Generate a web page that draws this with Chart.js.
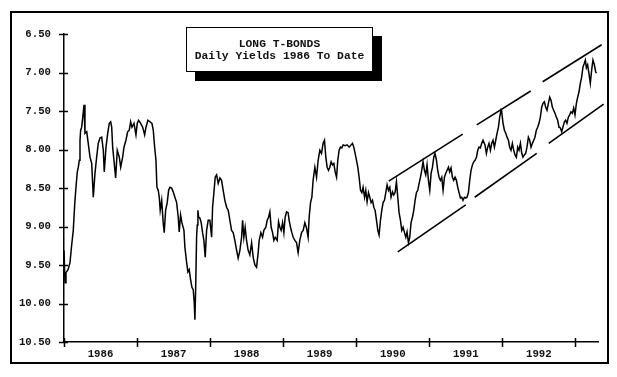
<!DOCTYPE html>
<html>
<head>
<meta charset="utf-8">
<script src="https://cdn.jsdelivr.net/npm/chart.js@4/dist/chart.umd.min.js"></script>
<style>
  html, body { margin: 0; padding: 0; background: #fff; }
  #wrap { position: relative; width: 617px; height: 377px; }
  #title {
    position: absolute; left: 186px; top: 27px; width: 187px; height: 45px;
    box-sizing: border-box; border: 1px solid #000; background: #fff;
    box-shadow: 9px 9px 0 #000;
    font: bold 11.3px "Liberation Mono", "DejaVu Sans Mono", monospace;
    color: #111; text-align: center; line-height: 12px; padding-top: 10px;
    white-space: pre;
  }
</style>
</head>
<body>
<div id="wrap">
  <canvas id="c" width="617" height="377"></canvas>
  <div id="title">LONG T-BONDS
Daily Yields 1986 To Date</div>
</div>
<script>
// ---- data (decimal year, yield %) ----
const dates = [
1986.000,1986.014,1986.027,1986.055,1986.082,1986.105,1986.127,1986.146,1986.164,1986.182,
1986.196,1986.209,1986.219,1986.228,1986.242,1986.256,1986.274,1986.287,1986.311,1986.332,
1986.356,1986.379,1986.401,1986.424,1986.447,1986.469,1986.492,1986.516,1986.538,1986.551,
1986.575,1986.598,1986.620,1986.639,1986.653,1986.666,1986.688,1986.707,1986.729,1986.757,
1986.776,1986.803,1986.821,1986.848,1986.871,1986.893,1986.912,1986.930,1986.958,1986.985,
1987.003,1987.022,1987.049,1987.077,1987.104,1987.122,1987.149,1987.176,1987.204,1987.222,
1987.241,1987.259,1987.272,1987.290,1987.304,1987.317,1987.337,1987.358,1987.372,1987.391,
1987.413,1987.432,1987.450,1987.473,1987.495,1987.518,1987.542,1987.564,1987.577,1987.596,
1987.614,1987.642,1987.655,1987.679,1987.696,1987.714,1987.733,1987.751,1987.769,1987.783,
1987.792,1987.802,1987.815,1987.824,1987.833,1987.843,1987.860,1987.878,1987.897,1987.915,
1987.933,1987.952,1987.974,1987.997,1988.021,1988.034,1988.052,1988.070,1988.089,1988.111,
1988.134,1988.157,1988.179,1988.202,1988.226,1988.248,1988.271,1988.294,1988.316,1988.339,
1988.363,1988.384,1988.408,1988.431,1988.445,1988.462,1988.480,1988.499,1988.521,1988.544,
1988.568,1988.590,1988.613,1988.636,1988.658,1988.672,1988.695,1988.718,1988.736,1988.763,
1988.781,1988.800,1988.818,1988.836,1988.855,1988.873,1988.891,1988.918,1988.937,1988.955,
1988.973,1988.992,1989.010,1989.027,1989.047,1989.068,1989.082,1989.101,1989.119,1989.137,
1989.160,1989.183,1989.205,1989.228,1989.252,1989.274,1989.297,1989.320,1989.342,1989.356,
1989.375,1989.393,1989.410,1989.434,1989.457,1989.479,1989.502,1989.525,1989.547,1989.566,
1989.584,1989.602,1989.621,1989.639,1989.657,1989.676,1989.694,1989.712,1989.731,1989.748,
1989.766,1989.785,1989.803,1989.821,1989.848,1989.876,1989.903,1989.930,1989.949,1989.967,
1989.985,1990.004,1990.022,1990.040,1990.059,1990.077,1990.094,1990.114,1990.131,1990.149,
1990.168,1990.186,1990.204,1990.223,1990.241,1990.259,1990.278,1990.296,1990.313,1990.332,
1990.350,1990.368,1990.387,1990.405,1990.423,1990.442,1990.460,1990.477,1990.497,1990.514,
1990.532,1990.551,1990.569,1990.587,1990.606,1990.624,1990.642,1990.661,1990.679,1990.696,
1990.715,1990.733,1990.751,1990.770,1990.788,1990.806,1990.825,1990.843,1990.861,1990.880,
1990.897,1990.915,1990.934,1990.952,1990.970,1990.989,1991.007,1991.025,1991.044,1991.062,
1991.079,1991.099,1991.116,1991.134,1991.153,1991.171,1991.189,1991.208,1991.226,1991.244,
1991.263,1991.280,1991.298,1991.317,1991.335,1991.353,1991.372,1991.390,1991.408,1991.427,
1991.445,1991.462,1991.481,1991.499,1991.517,1991.536,1991.554,1991.572,1991.591,1991.609,
1991.627,1991.646,1991.664,1991.681,1991.700,1991.718,1991.736,1991.763,1991.782,1991.800,
1991.818,1991.837,1991.855,1991.873,1991.892,1991.910,1991.928,1991.947,1991.964,1991.983,
1991.992,1992.010,1992.029,1992.047,1992.065,1992.084,1992.101,1992.119,1992.138,1992.156,
1992.174,1992.193,1992.211,1992.229,1992.248,1992.266,1992.283,1992.302,1992.320,1992.338,
1992.357,1992.375,1992.393,1992.412,1992.430,1992.447,1992.466,1992.484,1992.502,1992.521,
1992.539,1992.557,1992.576,1992.594,1992.612,1992.631,1992.649,1992.667,1992.685,1992.703,
1992.721,1992.740,1992.758,1992.776,1992.795,1992.813,1992.830,1992.850,1992.867,1992.885,
1992.904,1992.922,1992.940,1992.959,1992.977,1992.995,1993.014,1993.032,1993.050,1993.068,
1993.086,1993.104,1993.123,1993.137,1993.151,1993.168,1993.186,1993.205,1993.223,1993.241,
1993.260,1993.278,1993.287
];
const yields = [
9.31,9.73,9.60,9.56,9.47,9.24,9.05,8.72,8.49,8.29,
8.23,8.14,7.88,7.75,7.71,7.59,7.42,7.79,7.77,7.92,
8.10,8.18,8.62,8.31,8.10,7.92,7.85,7.84,8.01,8.29,
7.97,7.79,7.66,7.64,7.71,7.97,8.18,8.37,8.01,8.10,
8.23,8.10,7.97,7.88,7.77,7.75,7.64,7.71,7.66,7.81,
7.66,7.62,7.66,7.71,7.81,7.71,7.62,7.64,7.66,7.75,
7.97,8.14,8.49,8.53,8.62,8.79,8.66,8.95,9.08,8.79,
8.69,8.53,8.49,8.50,8.55,8.62,8.69,8.88,9.07,8.85,
8.95,9.05,9.27,9.47,9.59,9.56,9.69,9.79,9.82,9.99,
10.21,9.82,9.14,8.98,8.79,8.88,8.89,8.95,9.08,9.18,
9.40,9.05,8.92,8.92,9.14,8.75,8.56,8.36,8.33,8.44,
8.37,8.40,8.53,8.66,8.75,8.79,8.92,9.05,9.08,9.18,
9.31,9.41,9.31,9.14,8.92,9.14,9.01,9.18,9.31,9.37,
9.21,9.40,9.50,9.53,9.34,9.18,9.08,9.14,9.05,9.01,
8.92,8.88,8.81,9.01,9.08,9.18,9.14,9.18,8.94,9.01,
9.05,8.95,9.08,8.88,8.81,8.82,8.92,9.01,9.08,9.14,
9.18,9.21,9.34,9.18,9.08,9.05,8.95,9.02,9.14,8.88,
8.69,8.62,8.40,8.23,8.36,8.14,8.01,8.05,7.92,7.88,
8.10,8.23,8.27,8.23,8.16,8.20,8.18,8.29,8.36,8.14,
8.01,7.97,7.98,7.94,7.95,7.94,7.97,7.94,7.92,7.97,
8.05,8.14,8.23,8.36,8.53,8.56,8.49,8.62,8.53,8.68,
8.56,8.62,8.69,8.66,8.75,8.79,8.92,9.05,9.11,8.92,
8.79,8.69,8.66,8.56,8.46,8.53,8.49,8.62,8.55,8.59,
8.56,8.42,8.62,8.82,8.92,9.05,9.01,9.08,9.14,9.07,
9.21,9.14,8.95,8.88,8.79,8.66,8.56,8.53,8.44,8.36,
8.27,8.16,8.27,8.33,8.20,8.40,8.53,8.31,8.23,8.10,
8.05,8.14,8.27,8.36,8.40,8.36,8.53,8.36,8.31,8.27,
8.23,8.29,8.24,8.36,8.40,8.36,8.40,8.49,8.56,8.63,
8.62,8.66,8.62,8.63,8.62,8.56,8.40,8.27,8.20,8.16,
8.14,8.10,8.01,7.97,7.98,7.92,7.88,7.94,8.05,7.97,
7.92,8.01,7.92,7.88,7.97,7.88,7.79,7.71,7.58,7.49,
7.51,7.66,7.75,7.79,7.84,7.88,7.97,8.01,7.92,8.01,
8.07,8.10,7.97,8.01,7.92,8.05,8.10,8.07,8.05,7.97,
7.84,7.88,7.97,7.92,7.88,7.84,7.75,7.71,7.66,7.58,
7.45,7.40,7.38,7.45,7.49,7.40,7.32,7.36,7.45,7.49,
7.53,7.58,7.62,7.71,7.72,7.77,7.71,7.64,7.62,7.66,
7.58,7.55,7.51,7.53,7.46,7.55,7.40,7.32,7.25,7.14,
7.06,6.93,6.88,6.84,6.94,6.90,7.01,7.14,6.97,6.84,
6.90,6.99,7.01
];
// trend channel segments: [startYear, startYield, endYear, endYield]
const channel1Upper = [1990.446, 8.41, 1991.458, 7.80];
const channel1Lower = [1990.569, 9.33, 1991.499, 8.72];
const channel2Upper = [1991.650, 7.68, 1992.389, 7.24];
const channel2Lower = [1991.622, 8.62, 1992.471, 8.05];
const channel3Upper = [1992.553, 7.12, 1993.360, 6.64];
const channel3Lower = [1992.635, 7.92, 1993.387, 7.41];
// axis ticks
const yTicks = [6.5, 7.0, 7.5, 8.0, 8.5, 9.0, 9.5, 10.0, 10.5];
const yearTicks = [1986, 1987, 1988, 1989, 1990, 1991, 1992, 1993];
const yearLabels = ['1986', '1987', '1988', '1989', '1990', '1991', '1992'];
const xMin = 1986, xMax = 1993.31;

const series = dates.map((d, i) => ({ x: d, y: yields[i] }));
const seg = s => [{ x: s[0], y: s[1] }, { x: s[2], y: s[3] }];
const segStyle = { borderColor: '#000', borderWidth: 1.6, pointRadius: 0, clip: false, fill: false };

const tickFont = { family: '"Liberation Mono", "DejaVu Sans Mono", monospace', size: 10.7, weight: 'bold' };

const decor = {
  id: 'decor',
  beforeDraw(chart) {
    const ctx = chart.ctx;
    ctx.save();
    ctx.fillStyle = '#fff';
    ctx.fillRect(0, 0, chart.width, chart.height);
    ctx.strokeStyle = '#000';
    ctx.lineWidth = 2;
    ctx.strokeRect(11, 12, 597, 351);
    ctx.restore();
  },
  afterDraw(chart) {
    const ctx = chart.ctx;
    const xs = chart.scales.x, ys = chart.scales.y;
    ctx.save();
    ctx.strokeStyle = '#000';
    ctx.lineWidth = 1.5;
    ctx.beginPath();
    yTicks.forEach(v => {
      const py = Math.round(ys.getPixelForValue(v)) + 0.5;
      ctx.moveTo(xs.left - 5, py); ctx.lineTo(xs.left + 4, py);
    });
    yearTicks.forEach(v => {
      const px = Math.round(xs.getPixelForValue(v)) + 0.5;
      ctx.moveTo(px, ys.bottom - 4); ctx.lineTo(px, ys.bottom + 5);
    });
    ctx.stroke();
    ctx.restore();
  }
};

new Chart(document.getElementById('c'), {
  type: 'line',
  data: {
    datasets: [
      { data: series, borderColor: '#000', borderWidth: 1.5, pointRadius: 0, tension: 0, fill: false },
      Object.assign({ data: seg(channel1Upper) }, segStyle),
      Object.assign({ data: seg(channel1Lower) }, segStyle),
      Object.assign({ data: seg(channel2Upper) }, segStyle),
      Object.assign({ data: seg(channel2Lower) }, segStyle),
      Object.assign({ data: seg(channel3Upper) }, segStyle),
      Object.assign({ data: seg(channel3Lower) }, segStyle)
    ]
  },
  options: {
    responsive: false,
    animation: false,
    devicePixelRatio: 1,
    events: [],
    layout: { padding: { left: 0, top: 34, right: 19, bottom: 15 } },
    plugins: { legend: { display: false }, tooltip: { enabled: false }, title: { display: false } },
    scales: {
      x: {
        type: 'linear', min: xMin, max: xMax,
        afterBuildTicks: s => { s.ticks = yearLabels.map((l, i) => ({ value: yearTicks[i] + 0.5 })); },
        afterFit: s => { s.height = 20; },
        grid: { display: true, drawOnChartArea: false, drawTicks: true, tickLength: 4, tickColor: 'rgba(0,0,0,0)' },
        border: { display: true, color: '#000', width: 1.5 },
        ticks: {
          autoSkip: false, maxRotation: 0, padding: 2, color: '#111', font: tickFont,
          callback: (v, i) => yearLabels[i]
        }
      },
      y: {
        type: 'linear', min: 6.5, max: 10.5, reverse: true,
        afterBuildTicks: s => { s.ticks = yTicks.map(v => ({ value: v })); },
        afterFit: s => { s.width = 64; },
        grid: { display: true, drawOnChartArea: false, drawTicks: true, tickLength: 5, tickColor: 'rgba(0,0,0,0)' },
        border: { display: true, color: '#000', width: 1.5 },
        ticks: {
          autoSkip: false, padding: 8, color: '#111', font: tickFont,
          callback: v => Number(v).toFixed(2)
        }
      }
    }
  },
  plugins: [decor]
});
</script>
</body>
</html>
